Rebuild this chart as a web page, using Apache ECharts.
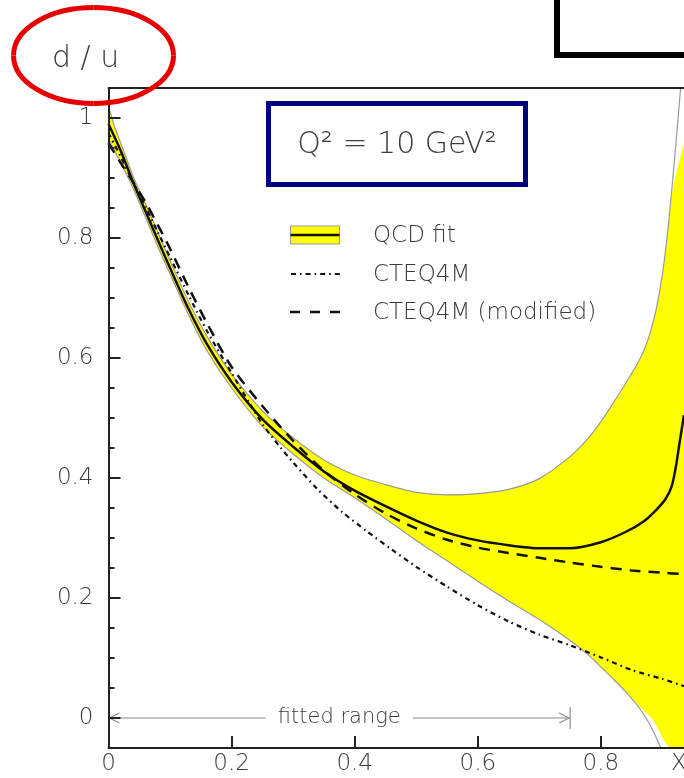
<!DOCTYPE html>
<html>
<head>
<meta charset="utf-8">
<script src="https://cdn.jsdelivr.net/npm/echarts@6/dist/echarts.min.js"></script>
<style>
  html, body { margin: 0; padding: 0; background: #fff; }
  #chart { width: 684px; height: 778px; }
</style>
</head>
<body>
<div id="chart"></div>
<script>
// d/u ratio at Q^2 = 10 GeV^2 : QCD fit with uncertainty band, CTEQ4M and modified CTEQ4M
const xTickValues = [0, 0.2, 0.4, 0.6, 0.8, 1];
const yTickValues = [0, 0.2, 0.4, 0.6, 0.8, 1];
const fittedRange = [0, 0.75];

const qcdFit = [[0,0.99],[0.02,0.945],[0.04,0.893],[0.06,0.845],[0.08,0.797],[0.1,0.75],[0.13,0.682],
  [0.16,0.623],[0.2,0.56],[0.25,0.498],[0.3,0.452],[0.35,0.411],[0.4,0.379],[0.45,0.353],[0.5,0.329],
  [0.55,0.309],[0.6,0.296],[0.65,0.288],[0.7,0.283],[0.75,0.283],[0.8,0.293],[0.84,0.31],[0.87,0.328],
  [0.89,0.347],[0.905,0.365],[0.915,0.386],[0.922,0.42],[0.928,0.46],[0.935,0.505]];

const cteq4m = [[0,0.975],[0.02,0.935],[0.04,0.893],[0.06,0.852],[0.08,0.81],[0.1,0.768],[0.13,0.705],
  [0.16,0.645],[0.2,0.575],[0.23,0.523],[0.25,0.49],[0.28,0.45],[0.3,0.426],[0.34,0.381],[0.38,0.343],
  [0.42,0.311],[0.46,0.281],[0.5,0.252],[0.55,0.219],[0.6,0.188],[0.65,0.161],[0.7,0.139],[0.75,0.121],
  [0.8,0.101],[0.85,0.08],[0.9,0.065],[0.935,0.053]];

const cteq4mModified = [[0,0.958],[0.02,0.925],[0.04,0.893],[0.06,0.86],[0.08,0.822],[0.1,0.782],
  [0.13,0.718],[0.16,0.658],[0.2,0.585],[0.25,0.52],[0.3,0.462],[0.35,0.412],[0.4,0.373],[0.45,0.341],
  [0.5,0.316],[0.55,0.297],[0.6,0.284],[0.65,0.275],[0.7,0.267],[0.75,0.259],[0.8,0.252],[0.85,0.246],
  [0.9,0.242],[0.935,0.24]];

// outline of the uncertainty band
const bandUpperEdge = [[0,1.02],[0.01,0.985],[0.02,0.958],[0.04,0.903],[0.06,0.857],[0.08,0.81],
  [0.1,0.762],[0.13,0.694],[0.16,0.636],[0.2,0.573],[0.25,0.512],[0.3,0.467],[0.35,0.43],[0.4,0.405],
  [0.45,0.389],[0.5,0.376],[0.55,0.372],[0.6,0.374],[0.65,0.381],[0.7,0.399],[0.75,0.436],[0.78,0.467],
  [0.8,0.494],[0.82,0.525],[0.84,0.557],[0.86,0.592],[0.87,0.613],[0.88,0.642],[0.89,0.682],[0.9,0.74],
  [0.91,0.825],[0.92,0.935],[0.9295,1.05]];
const bandLowerEdge = [[0,0.965],[0.01,0.945],[0.02,0.925],[0.04,0.883],[0.06,0.835],[0.08,0.786],
  [0.1,0.74],[0.13,0.672],[0.16,0.612],[0.2,0.55],[0.25,0.486],[0.3,0.44],[0.35,0.4],[0.4,0.367],
  [0.45,0.332],[0.5,0.296],[0.55,0.262],[0.6,0.228],[0.65,0.195],[0.7,0.164],[0.75,0.129],[0.78,0.105],
  [0.8,0.085],[0.82,0.065],[0.84,0.044],[0.86,0.02],[0.875,-0.003],[0.886,-0.024],[0.8975,-0.05]];

// the shaded area departs slightly from the outline close to the frame
const fillUpperTail = [[0.917,0.884],[0.935,0.959],[0.95,1.05]];
const fillLowerTail = [[0.86,0.022],[0.885,-0.004],[0.915,-0.05],[0.95,-0.05]];

const fillUpper = bandUpperEdge.filter(p => p[0] <= 0.91).concat(fillUpperTail);
const fillLower = bandLowerEdge.filter(p => p[0] <= 0.84).concat(fillLowerTail);

const FONT = '"DejaVu Sans", "Liberation Sans", sans-serif';
const TEXT = '#3c3c3c';
const AXIS = '#222';
const SMOOTH = 0.25;

const chart = echarts.init(document.getElementById('chart'), null, { renderer: 'canvas' });

const fmt = v => (v === 0 ? '0' : v === 1 ? '1' : v.toFixed(1));
const tickLabel = { fontFamily: FONT, fontWeight: 200, fontSize: 23, color: TEXT };

chart.setOption({
  animation: false,
  backgroundColor: '#fff',
  grid: {
    left: 108.5, top: 88, width: 615.5, height: 660,
    outerBoundsMode: 'none', containLabel: false, show: false
  },
  xAxis: [{
    type: 'value', min: 0, max: 1, interval: 0.2, z: 10,
    axisLine: { show: true, onZero: false, lineStyle: { color: AXIS, width: 2 } },
    axisTick: { inside: true, length: 12, lineStyle: { color: AXIS, width: 2 }, customValues: xTickValues },
    axisLabel: Object.assign({ customValues: xTickValues, formatter: fmt, margin: 5 }, tickLabel),
    splitLine: { show: false }
  }, {
    // upper frame line
    type: 'value', min: 0, max: 1, position: 'top', z: 10,
    axisLine: { show: true, onZero: false, lineStyle: { color: AXIS, width: 2 } },
    axisTick: { show: false }, axisLabel: { show: false }, splitLine: { show: false }
  }],
  yAxis: [{
    type: 'value', min: -0.05, max: 1.05, interval: 0.05, z: 10,
    axisLine: { show: true, onZero: false, lineStyle: { color: AXIS, width: 2 } },
    axisTick: { inside: true, length: 12, lineStyle: { color: AXIS, width: 2 }, customValues: yTickValues },
    axisLabel: Object.assign({ customValues: yTickValues, formatter: fmt, margin: 15 }, tickLabel),
    splitLine: { show: false }
  }, {
    // short ticks every 0.05
    type: 'value', min: -0.05, max: 1.05, interval: 0.05, position: 'left', z: 10,
    axisLine: { show: false },
    axisTick: { show: true, inside: true, length: 6, lineStyle: { color: AXIS, width: 2 } },
    axisLabel: { show: false },
    splitLine: { show: false }
  }],
  series: [
    {
      // yellow from the upper edge of the band downwards
      name: 'band', type: 'line', data: fillUpper, showSymbol: false, silent: true, z: 1,
      smooth: SMOOTH, lineStyle: { width: 0 }, areaStyle: { color: '#ffff00', opacity: 1, origin: 'start' }
    },
    {
      // white below the lower edge of the band
      name: 'band base', type: 'line', data: fillLower, showSymbol: false, silent: true, z: 1,
      smooth: SMOOTH, lineStyle: { width: 0 }, areaStyle: { color: '#ffffff', opacity: 1, origin: 'start' }
    },
    {
      name: 'band upper', type: 'line', data: bandUpperEdge, showSymbol: false, silent: true, z: 2,
      smooth: SMOOTH, lineStyle: { color: '#9a9a9a', width: 1.2 }
    },
    {
      name: 'band lower', type: 'line', data: bandLowerEdge, showSymbol: false, silent: true, z: 2,
      smooth: SMOOTH, lineStyle: { color: '#9a9a9a', width: 1.2 }
    },
    {
      name: 'CTEQ4M', type: 'line', data: cteq4m, showSymbol: false, smooth: SMOOTH, silent: true, z: 3,
      lineStyle: { color: '#111', width: 2.2, type: [5, 4, 1.6, 4] }
    },
    {
      name: 'CTEQ4M (modified)', type: 'line', data: cteq4mModified, showSymbol: false, smooth: SMOOTH, silent: true, z: 3,
      lineStyle: { color: '#111', width: 2.5, type: [11, 8] }
    },
    {
      name: 'QCD fit', type: 'line', data: qcdFit, showSymbol: false, smooth: SMOOTH, silent: true, z: 4,
      lineStyle: { color: '#111', width: 2.5 }
    },
    {
      name: 'fitted range', type: 'custom', silent: true, clip: false, z: 5,
      data: [fittedRange],
      renderItem: (params, api) => {
        const a = api.coord([api.value(0), 0]);
        const b = api.coord([api.value(1), 0]);
        const gray = '#8c8c8c';
        const mid = (a[0] + b[0]) / 2;
        return {
          type: 'group',
          children: [
            { type: 'line', shape: { x1: a[0], y1: a[1], x2: b[0], y2: b[1] }, style: { stroke: gray, lineWidth: 1.2 } },
            { type: 'polyline', shape: { points: [[a[0] + 11, a[1] - 5], [a[0] + 1, a[1]], [a[0] + 11, a[1] + 5]] }, style: { stroke: gray, lineWidth: 1.2, fill: null } },
            { type: 'polyline', shape: { points: [[b[0] - 11, b[1] - 5], [b[0] - 1, b[1]], [b[0] - 11, b[1] + 5]] }, style: { stroke: gray, lineWidth: 1.2, fill: null } },
            { type: 'line', shape: { x1: b[0], y1: b[1] - 11, x2: b[0], y2: b[1] + 11 }, style: { stroke: gray, lineWidth: 1.2 } },
            { type: 'text', style: { text: 'fitted range', x: mid, y: a[1], align: 'center', verticalAlign: 'middle',
                fill: TEXT, font: '200 21px ' + FONT, backgroundColor: '#fff', padding: [0, 12] } }
          ]
        };
      }
    }
  ],
  graphic: [
    // axis titles
    { type: 'text', left: 52, top: 44, style: { text: 'd / u', font: '200 30px ' + FONT, fill: TEXT } },
    { type: 'text', left: 671, top: 753, style: { text: 'X', font: '200 23px ' + FONT, fill: TEXT } },
    // red ellipse around the axis title
    { type: 'bezierCurve', z: 20, shape: { x1: 93.5, y1: 7.5, cpx1: 137.7, cpy1: 7.5, cpx2: 173.5, cpy2: 29, x2: 173.5, y2: 55.5 }, style: { stroke: '#e60000', lineWidth: 5, fill: null } },
    { type: 'bezierCurve', z: 20, shape: { x1: 173.5, y1: 55.5, cpx1: 173.5, cpy1: 82, cpx2: 137.7, cpy2: 103.5, x2: 93.5, y2: 103.5 }, style: { stroke: '#e60000', lineWidth: 5, fill: null } },
    { type: 'bezierCurve', z: 20, shape: { x1: 93.5, y1: 103.5, cpx1: 49.3, cpy1: 103.5, cpx2: 13.5, cpy2: 82, x2: 13.5, y2: 55.5 }, style: { stroke: '#e60000', lineWidth: 5, fill: null } },
    { type: 'bezierCurve', z: 20, shape: { x1: 13.5, y1: 55.5, cpx1: 13.5, cpy1: 29, cpx2: 49.3, cpy2: 7.5, x2: 93.5, y2: 7.5 }, style: { stroke: '#e60000', lineWidth: 5, fill: null } },
    // black frame at top right
    { type: 'rect', z: 20, shape: { x: 557, y: -20, width: 200, height: 75 }, style: { stroke: '#000', lineWidth: 6, fill: null } },
    // scale box
    { type: 'rect', z: 20, shape: { x: 268.5, y: 103.5, width: 257, height: 81 }, style: { stroke: '#00007f', lineWidth: 5, fill: '#fff' } },
    { type: 'text', z: 21, x: 397, y: 145, style: { text: 'Q² = 10 GeV²', font: '200 30px ' + FONT, fill: TEXT, align: 'center', verticalAlign: 'middle' } },
    // legend
    { type: 'rect', z: 20, shape: { x: 290.5, y: 226, width: 49, height: 18 }, style: { fill: '#ffff00', stroke: '#999', lineWidth: 1 } },
    { type: 'line', z: 21, shape: { x1: 290.5, y1: 235, x2: 339.5, y2: 235 }, style: { stroke: '#111', lineWidth: 2.5 } },
    { type: 'text', z: 21, x: 373, y: 236, style: { text: 'QCD fit', font: '200 23px ' + FONT, fill: TEXT, verticalAlign: 'middle' } },
    { type: 'line', z: 21, shape: { x1: 291, y1: 274, x2: 340, y2: 274 }, style: { stroke: '#111', lineWidth: 2, lineDash: [5, 4, 1.6, 4] } },
    { type: 'text', z: 21, x: 373, y: 275, style: { text: 'CTEQ4M', font: '200 23px ' + FONT, fill: TEXT, verticalAlign: 'middle' } },
    { type: 'line', z: 21, shape: { x1: 290, y1: 312, x2: 342, y2: 312 }, style: { stroke: '#111', lineWidth: 2.5, lineDash: [10, 10] } },
    { type: 'text', z: 21, x: 373, y: 313, style: { text: 'CTEQ4M (modified)', font: '200 23px ' + FONT, fill: TEXT, verticalAlign: 'middle' } }
  ]
});
</script>
</body>
</html>
